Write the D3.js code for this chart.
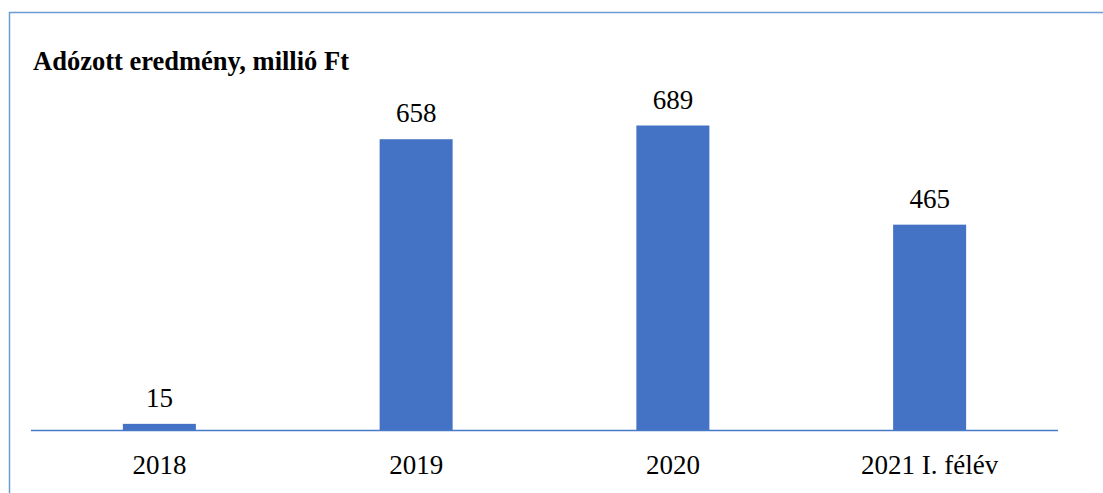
<!DOCTYPE html>
<html><head><meta charset="utf-8">
<script src="https://cdn.jsdelivr.net/npm/d3@7"></script>
<style>body{margin:0;background:#fff}svg{display:block}</style>
</head><body>
<script>
const categories = ["2018", "2019", "2020", "2021 I. félév"];
const values = [15, 658, 689, 465];
const title = "Adózott eredmény, millió Ft";

const W = 1103, H = 493;
const svg = d3.select("body").append("svg").attr("width", W).attr("height", H);

svg.append("line").attr("x1", 9).attr("x2", W).attr("y1", 12.5).attr("y2", 12.5)
  .attr("stroke", "#6d9bd4").attr("stroke-width", 1.5);
svg.append("line").attr("x1", 9.5).attr("x2", 9.5).attr("y1", 12).attr("y2", H)
  .attr("stroke", "#6d9bd4").attr("stroke-width", 1.5);

const left = 31, right = 1058, base = 430.5;
const x = d3.scaleBand().domain(categories).range([left, right]).padding(0);
const y = d3.scaleLinear().domain([0, 689]).range([base, 125.5]);
const bw = 73;

svg.append("text").attr("x", 33).attr("y", 70).attr("font-family", "Tinos").attr("font-weight", "bold").attr("font-size", 26.5).text(title);

svg.selectAll("rect.bar").data(values).join("rect")
  .attr("x", (d, i) => x(categories[i]) + x.bandwidth() / 2 - bw / 2)
  .attr("width", bw)
  .attr("y", d => y(d))
  .attr("height", d => base - y(d))
  .attr("fill", "#4472C4");

svg.append("line").attr("x1", left).attr("x2", right).attr("y1", base).attr("y2", base)
  .attr("stroke", "#4a78c8").attr("stroke-width", 1.3);

values.forEach((v, i) => {
  svg.append("text").attr("x", x(categories[i]) + x.bandwidth() / 2).attr("y", y(v) - 17)
    .attr("text-anchor", "middle").attr("font-family", "Tinos").attr("font-size", 27).text(v);
});
categories.forEach(c => {
  svg.append("text").attr("x", x(c) + x.bandwidth() / 2).attr("y", 474)
    .attr("text-anchor", "middle").attr("font-family", "Tinos").attr("font-size", 27).text(c);
});
</script>
</body></html>
